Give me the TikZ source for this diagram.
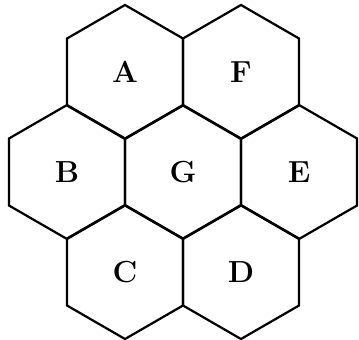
\documentclass[tikz,border=0pt]{standalone}
\usepackage{fontspec}
\usetikzlibrary{shapes.geometric}
\begin{document}
\begin{tikzpicture}[x=0.3mm,y=-0.3mm,
	cell/.style={draw,regular polygon,regular polygon sides=6,
		shape border rotate=30,minimum size=40.2mm,inner sep=0pt,
		line width=1.9pt,font=\fontsize{26}{26}\selectfont\bfseries}]
	\useasboundingbox (0,0) rectangle (359,340);
	% top row
	\node[cell] (A) at (125,72) {A};
	\node[cell] (F) at (241,72) {F};
	% middle row
	\node[cell] (B) at (67,172) {B};
	\node[cell] (G) at (183,172) {G};
	\node[cell] (E) at (299,172) {E};
	% bottom row
	\node[cell] (C) at (125,272) {C};
	\node[cell] (D) at (241,272) {D};
\end{tikzpicture}
\end{document}
